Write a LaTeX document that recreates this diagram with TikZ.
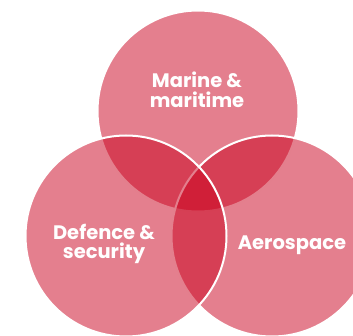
\documentclass[tikz,border=0pt]{standalone}
\usepackage{fontspec}
\setmainfont{Poppins}
\definecolor{vennred}{RGB}{201,0,29}
\tikzset{sector/.style={circle,draw=white,line width=2pt,fill=vennred,fill opacity=0.5,minimum size=201pt,inner sep=0pt},
  sectorlabel/.style={text=white,font=\bfseries\fontsize{19.5}{19.5}\selectfont,align=center,inner sep=0pt}}
\begin{document}
\begin{tikzpicture}[x=1pt,y=1pt]
\useasboundingbox (0,0) rectangle (353,335);
\node[sector] (marine) at (198,224) {};
\node[sector] (aero) at (272,99) {};
\node[sector] (defence) at (126,99) {};
\node[sectorlabel] (marinelabel) at (197,245) {Marine \&\\maritime};
\node[sectorlabel] (defencelabel) at (104,91) {Defence \&\\security};
\node[sectorlabel] (aerolabel) at (292,90) {Aerospace};
\end{tikzpicture}
\end{document}
